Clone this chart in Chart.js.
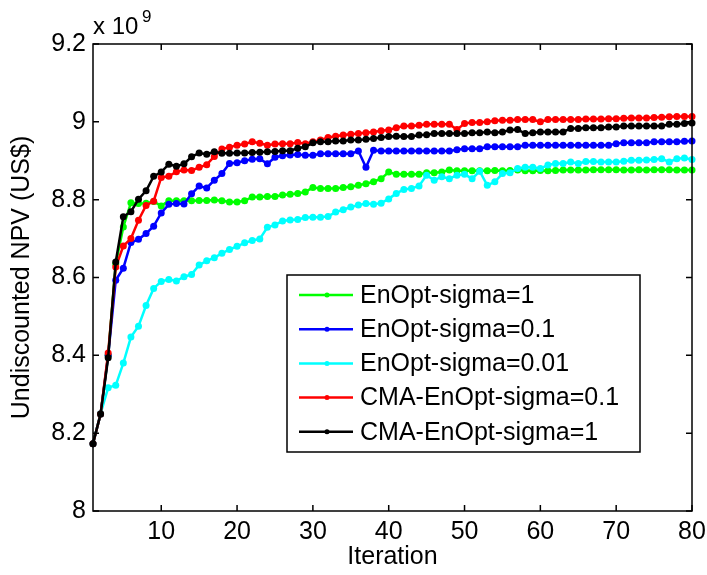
<!DOCTYPE html>
<html>
<head>
<meta charset="utf-8">
<script src="https://cdn.jsdelivr.net/npm/chart.js@4"></script>
<style>
  html, body { margin: 0; padding: 0; background: #fff; }
</style>
</head>
<body>
<canvas id="chart" width="707" height="575"></canvas>
<script>
// iteration number (x) and NPV in units of 1e9 US$ (y)
const iterations = [1,2,3,4,5,6,7,8,9,10,11,12,13,14,15,16,17,18,19,20,
  21,22,23,24,25,26,27,28,29,30,31,32,33,34,35,36,37,38,39,40,
  41,42,43,44,45,46,47,48,49,50,51,52,53,54,55,56,57,58,59,60,
  61,62,63,64,65,66,67,68,69,70,71,72,73,74,75,76,77,78,79,80];

const enoptSigma1 = [8.173,8.249,8.400,8.635,8.730,8.792,8.790,8.791,8.795,8.784,
  8.797,8.797,8.797,8.797,8.798,8.798,8.799,8.797,8.794,8.794,
  8.797,8.807,8.807,8.808,8.808,8.812,8.814,8.816,8.820,8.831,
  8.829,8.829,8.829,8.831,8.833,8.837,8.841,8.846,8.854,8.871,
  8.865,8.865,8.865,8.865,8.869,8.869,8.871,8.876,8.874,8.874,
  8.874,8.874,8.874,8.875,8.874,8.875,8.876,8.874,8.874,8.875,
  8.874,8.875,8.876,8.876,8.876,8.876,8.877,8.877,8.877,8.877,
  8.876,8.876,8.877,8.876,8.877,8.877,8.877,8.876,8.876,8.876];

const enoptSigma01 = [8.173,8.249,8.400,8.593,8.624,8.690,8.698,8.713,8.732,8.766,
  8.788,8.790,8.789,8.815,8.835,8.830,8.850,8.867,8.893,8.895,
  8.900,8.904,8.905,8.892,8.909,8.913,8.915,8.916,8.914,8.914,
  8.918,8.918,8.918,8.918,8.918,8.925,8.883,8.927,8.925,8.925,
  8.925,8.925,8.925,8.925,8.925,8.925,8.925,8.925,8.928,8.931,
  8.931,8.931,8.936,8.936,8.936,8.936,8.936,8.940,8.940,8.940,
  8.940,8.940,8.940,8.940,8.940,8.940,8.940,8.940,8.940,8.944,
  8.946,8.946,8.946,8.946,8.949,8.949,8.949,8.949,8.950,8.951];

const enoptSigma001 = [8.173,8.250,8.317,8.323,8.380,8.447,8.475,8.528,8.572,8.590,
  8.595,8.591,8.602,8.608,8.632,8.643,8.651,8.662,8.672,8.680,
  8.689,8.695,8.699,8.729,8.735,8.745,8.748,8.749,8.754,8.755,
  8.755,8.757,8.768,8.774,8.781,8.786,8.790,8.788,8.791,8.802,
  8.816,8.826,8.829,8.835,8.863,8.850,8.859,8.854,8.863,8.865,
  8.854,8.873,8.837,8.846,8.867,8.869,8.880,8.883,8.883,8.880,
  8.889,8.893,8.893,8.897,8.893,8.898,8.898,8.897,8.897,8.897,
  8.899,8.901,8.901,8.902,8.903,8.905,8.897,8.905,8.907,8.903];

const cmaSigma01 = [8.173,8.249,8.406,8.627,8.681,8.700,8.747,8.785,8.796,8.857,
  8.860,8.872,8.876,8.875,8.883,8.890,8.911,8.930,8.935,8.940,
  8.943,8.949,8.945,8.940,8.943,8.944,8.944,8.947,8.944,8.949,
  8.953,8.960,8.963,8.966,8.968,8.970,8.972,8.974,8.977,8.979,
  8.985,8.989,8.989,8.991,8.994,8.994,8.994,8.994,8.980,8.996,
  8.998,8.998,9.000,9.003,9.004,9.004,9.006,9.006,9.006,9.000,
  9.006,9.006,9.006,9.006,9.006,9.007,9.007,9.007,9.008,9.008,
  9.009,9.010,9.010,9.010,9.011,9.012,9.013,9.014,9.014,9.014];

const cmaSigma1 = [8.173,8.249,8.394,8.640,8.756,8.769,8.801,8.823,8.860,8.871,
  8.891,8.886,8.892,8.910,8.920,8.917,8.923,8.919,8.919,8.920,
  8.920,8.921,8.922,8.923,8.924,8.926,8.926,8.932,8.936,8.946,
  8.949,8.949,8.951,8.951,8.953,8.953,8.955,8.957,8.960,8.962,
  8.963,8.962,8.962,8.966,8.967,8.970,8.970,8.970,8.970,8.970,
  8.972,8.972,8.974,8.972,8.974,8.979,8.980,8.970,8.972,8.974,
  8.974,8.974,8.974,8.983,8.983,8.985,8.985,8.985,8.987,8.987,
  8.989,8.989,8.989,8.989,8.989,8.989,8.994,8.994,8.996,8.997];

const seriesNames = ['EnOpt-sigma=1', 'EnOpt-sigma=0.1', 'EnOpt-sigma=0.01',
  'CMA-EnOpt-sigma=0.1', 'CMA-EnOpt-sigma=1'];
const seriesData = [enoptSigma1, enoptSigma01, enoptSigma001, cmaSigma01, cmaSigma1];
const seriesColors = ['#00ff00', '#0000ff', '#00ffff', '#ff0000', '#000000'];

const xTicks = [10, 20, 30, 40, 50, 60, 70, 80];
const yTicks = [8, 8.2, 8.4, 8.6, 8.8, 9, 9.2];

const FONT = 'Liberation Sans, Arial, sans-serif';

const datasets = seriesData.map((vals, i) => ({
  label: seriesNames[i],
  data: vals.map((v, j) => ({ x: iterations[j], y: v })),
  borderColor: seriesColors[i],
  backgroundColor: seriesColors[i],
  borderWidth: 2.5,
  pointRadius: 3.5,
  pointBorderWidth: 0,
  tension: 0,
  clip: false,
  order: seriesData.length - i   // last series drawn on top, like matlab
}));

// matlab style box, inward ticks, exponent and legend
const matlabBox = {
  id: 'matlabBox',
  afterDraw(chart) {
    const ctx = chart.ctx;
    const a = chart.chartArea;
    const xs = chart.scales.x, ys = chart.scales.y;
    ctx.save();
    ctx.strokeStyle = '#000';
    ctx.lineWidth = 1.5;
    ctx.strokeRect(a.left, a.top, a.right - a.left, a.bottom - a.top);
    ctx.beginPath();
    xTicks.forEach(v => {
      const px = xs.getPixelForValue(v);
      ctx.moveTo(px, a.bottom); ctx.lineTo(px, a.bottom - 6);
      ctx.moveTo(px, a.top); ctx.lineTo(px, a.top + 6);
    });
    yTicks.forEach(v => {
      const py = ys.getPixelForValue(v);
      ctx.moveTo(a.left, py); ctx.lineTo(a.left + 6, py);
      ctx.moveTo(a.right, py); ctx.lineTo(a.right - 6, py);
    });
    ctx.stroke();

    // x 10^9
    ctx.fillStyle = '#000';
    ctx.textBaseline = 'alphabetic';
    ctx.textAlign = 'left';
    ctx.font = '24px ' + FONT;
    ctx.fillText('x 10', a.left, 34);
    ctx.font = '17px ' + FONT;
    ctx.fillText('9', a.left + 49, 22);

    // legend
    const lx = 287, ly = 275, lw = 353, lh = 177;
    ctx.fillStyle = '#fff';
    ctx.fillRect(lx, ly, lw, lh);
    ctx.strokeStyle = '#000';
    ctx.lineWidth = 1.5;
    ctx.strokeRect(lx, ly, lw, lh);
    ctx.font = '25px ' + FONT;
    ctx.textBaseline = 'middle';
    chart.data.datasets.forEach((ds, i) => {
      const y = ly + 20 + i * 34.2;
      ctx.strokeStyle = ds.borderColor;
      ctx.lineWidth = 2.5;
      ctx.beginPath();
      ctx.moveTo(lx + 12, y); ctx.lineTo(lx + 66, y);
      ctx.stroke();
      ctx.fillStyle = ds.borderColor;
      ctx.beginPath();
      ctx.arc(lx + 40, y, 2.5, 0, Math.PI * 2);
      ctx.fill();
      ctx.fillStyle = '#000';
      ctx.fillText(ds.label, lx + 73, y + 1);
    });
    ctx.restore();
  }
};

new Chart(document.getElementById('chart'), {
  type: 'line',
  data: { datasets: datasets },
  options: {
    responsive: false,
    animation: false,
    layout: { padding: { top: 44, right: 15, left: 0, bottom: 0 } },
    plugins: { legend: { display: false }, tooltip: { enabled: false } },
    scales: {
      x: {
        type: 'linear',
        min: 1,
        max: 80,
        afterBuildTicks: s => { s.ticks = xTicks.map(v => ({ value: v })); },
        afterFit: s => { s.height = 64; s.paddingLeft = 0; s.paddingRight = 0; },
        grid: { display: false, drawTicks: false },
        border: { display: false },
        ticks: { color: '#000', font: { family: FONT, size: 25 }, padding: 6, maxRotation: 0, autoSkip: false },
        title: { display: true, text: 'Iteration', color: '#000', font: { family: FONT, size: 25 }, padding: { top: 0, bottom: 3 } }
      },
      y: {
        type: 'linear',
        min: 8,
        max: 9.2,
        afterBuildTicks: s => { s.ticks = yTicks.map(v => ({ value: v })); },
        afterFit: s => { s.width = 93; s.paddingTop = 0; s.paddingBottom = 0; },
        grid: { display: false, drawTicks: false },
        border: { display: false },
        ticks: { color: '#000', font: { family: FONT, size: 25 }, padding: 7,
          callback: v => String(Math.round(v * 10) / 10) },
        title: { display: true, text: 'Undiscounted NPV (US$)', color: '#000', font: { family: FONT, size: 25 }, padding: { top: 7, bottom: 0 } }
      }
    }
  },
  plugins: [matlabBox]
});
</script>
</body>
</html>
